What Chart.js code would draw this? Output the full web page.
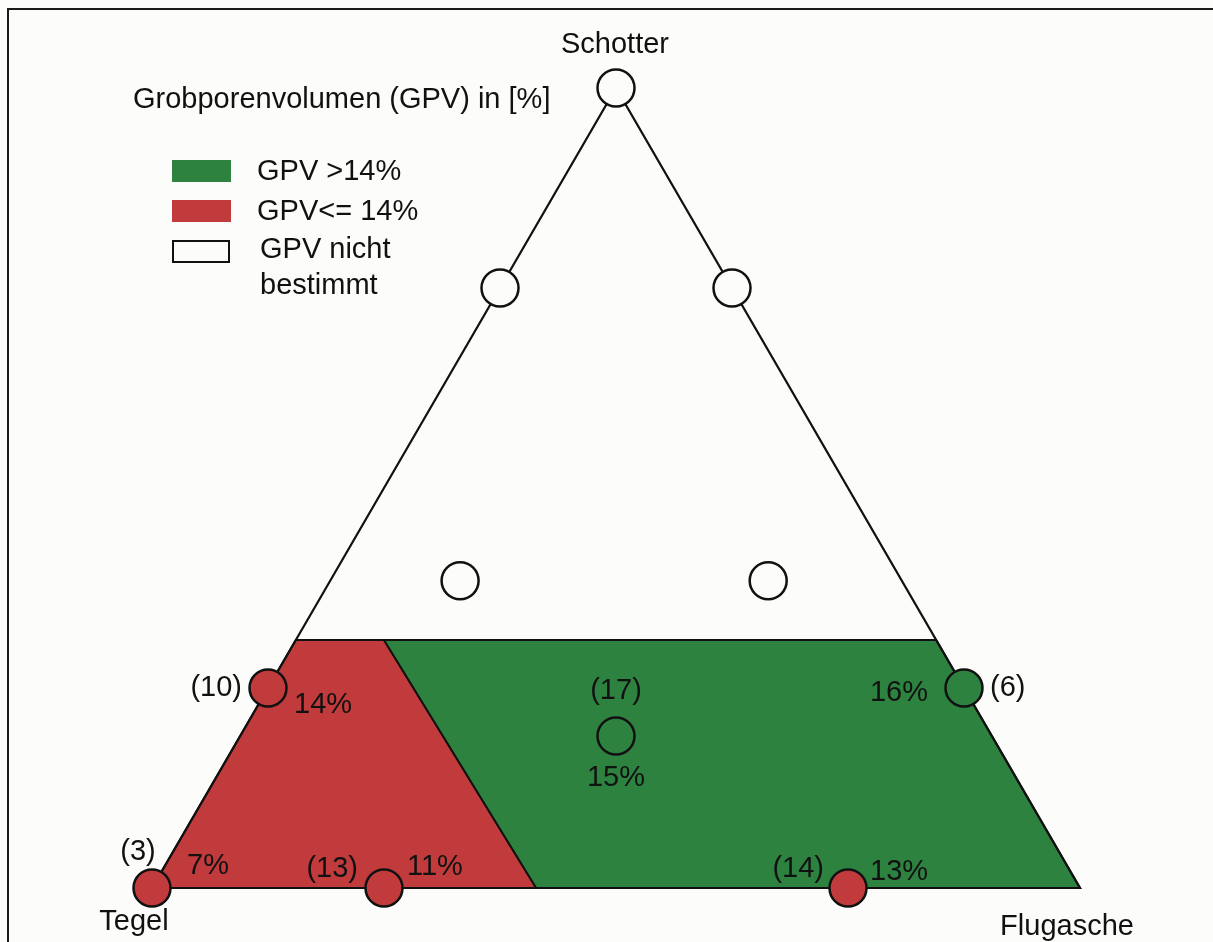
<!DOCTYPE html>
<html>
<head>
<meta charset="utf-8">
<script src="https://cdn.jsdelivr.net/npm/chart.js@4.4.1/dist/chart.umd.min.js"></script>
<style>
  html, body { margin: 0; padding: 0; background: #fcfcfa; }
  #wrap { position: relative; width: 1213px; height: 942px; }
</style>
</head>
<body>
<div id="wrap"><canvas id="ternary"></canvas></div>
<script>
// Ecken des Dreiecks
const cornerNames = ['Tegel', 'Schotter', 'Flugasche'];

// Mischungen (Anteile), GPV in % und Probenanzahl
const tegel     = [0, 0.25, 0,    0.476, 0.144, 0.75, 0,    0.405, 1, 0.75, 0.25];
const schotter  = [1, 0.75, 0.75, 0.384, 0.384, 0.25, 0.25, 0.19,  0, 0,    0];
const flugasche = [0, 0,    0.25, 0.14,  0.472, 0,    0.75, 0.405, 0, 0.25, 0.75];
const gpv         = [null, null, null, null, null, 14, 16, 15, 7, 11, 13];
const sampleCount = [null, null, null, null, null, 10, 6, 17, 3, 13, 14];

// Flächen (Tegel- / Schotteranteil der Eckpunkte)
const redZoneTegel      = [1, 0.69, 0.595, 0.586];
const redZoneSchotter   = [0, 0.31, 0.31, 0];
const greenZoneTegel    = [0.595, 0, 0, 0.586];
const greenZoneSchotter = [0.31, 0.31, 0, 0];

const legendLabels = [['GPV >14%'], ['GPV<= 14%'], ['GPV nicht', 'bestimmt']];
const chartTitle = 'Grobporenvolumen (GPV) in [%]';
const GPV_LIMIT = 14;

const GREEN = '#2e8240';
const RED = '#c13b3d';
const WHITE = '#fcfcfa';
const INK = '#111111';
const FONT = '29px "Liberation Sans", Arial, sans-serif';

// ternär -> kartesisch
function toXY(t, s) {
  return { x: 1 - t - s / 2, y: s };
}
function polygon(ts, ss) {
  const pts = ts.map((t, i) => toXY(t, ss[i]));
  pts.push(pts[0]);
  return pts;
}

const points = tegel.map((t, i) => toXY(t, schotter[i]));
const pointColors = gpv.map(v => v === null ? WHITE : (v > GPV_LIMIT ? GREEN : RED));

// Beschriftung: [dx, dy, align] für (n) und GPV-Wert
const labelPlacement = [
  null, null, null, null, null,
  [[-26, 0, 'right'], [26, 17, 'left']],
  [[26, 0, 'left'], [-36, 5, 'right']],
  [[0, -45, 'center'], [0, 42, 'center']],
  [[-14, -36, 'center'], [35, -22, 'left']],
  [[-26, -19, 'right'], [23, -21, 'left']],
  [[-24, -19, 'right'], [22, -16, 'left']]
];

const textPlugin = {
  id: 'ternaryText',
  afterDraw(chart) {
    const ctx = chart.ctx;
    const xs = chart.scales.x, ys = chart.scales.y;
    ctx.save();

    // Rahmen
    ctx.strokeStyle = '#1a1a1a';
    ctx.lineWidth = 2;
    ctx.beginPath();
    ctx.moveTo(8, chart.height);
    ctx.lineTo(8, 9);
    ctx.lineTo(chart.width, 9);
    ctx.stroke();

    ctx.font = FONT;
    ctx.fillStyle = INK;
    ctx.textBaseline = 'middle';

    // Ecken
    const cTeg = toXY(1, 0), cSch = toXY(0, 1), cFlu = toXY(0, 0);
    ctx.textAlign = 'center';
    ctx.fillText(cornerNames[1], xs.getPixelForValue(cSch.x) - 1, ys.getPixelForValue(cSch.y) - 43);
    ctx.fillText(cornerNames[0], xs.getPixelForValue(cTeg.x) - 18, ys.getPixelForValue(cTeg.y) + 34);
    ctx.fillText(cornerNames[2], xs.getPixelForValue(cFlu.x) - 13, ys.getPixelForValue(cFlu.y) + 39);

    // Titel
    ctx.textAlign = 'left';
    ctx.fillText(chartTitle, 133, 100);

    // Legende
    const legendFill = [GREEN, RED, WHITE];
    legendLabels.forEach((lines, i) => {
      const top = 160 + i * 40;
      ctx.fillStyle = legendFill[i];
      ctx.fillRect(172, top, 59, 22);
      if (i === 2) {
        ctx.strokeStyle = INK;
        ctx.lineWidth = 2;
        ctx.strokeRect(173, top + 1, 56, 21);
      }
      ctx.fillStyle = INK;
      lines.forEach((txt, j) => {
        ctx.fillText(txt, i === 2 ? 260 : 257, top + 12 + j * 36 - (i === 2 ? 2 : 0));
      });
    });

    // Punktbeschriftungen
    const meta = chart.getDatasetMeta(0);
    meta.data.forEach((el, i) => {
      const place = labelPlacement[i];
      if (!place) return;
      const texts = ['(' + sampleCount[i] + ')', gpv[i] + '%'];
      texts.forEach((txt, k) => {
        ctx.textAlign = place[k][2];
        ctx.fillText(txt, el.x + place[k][0], el.y + place[k][1]);
      });
    });
    ctx.restore();
  }
};

new Chart(document.getElementById('ternary'), {
  type: 'scatter',
  data: {
    datasets: [
      {
        label: 'Proben',
        data: points,
        order: 0,
        pointRadius: 18.5,
        pointBorderWidth: 2.5,
        pointBackgroundColor: pointColors,
        pointBorderColor: INK,
        showLine: false
      },
      {
        label: 'Dreieck',
        data: polygon([1, 0, 0], [0, 1, 0]),
        order: 1,
        showLine: true,
        borderColor: INK,
        borderWidth: 2.2,
        pointRadius: 0,
        fill: false,
        tension: 0
      },
      {
        label: 'GPV > 14%',
        data: polygon(greenZoneTegel, greenZoneSchotter),
        order: 2,
        showLine: true,
        borderColor: INK,
        borderWidth: 2,
        backgroundColor: GREEN,
        pointRadius: 0,
        fill: 'shape',
        tension: 0
      },
      {
        label: 'GPV <= 14%',
        data: polygon(redZoneTegel, redZoneSchotter),
        order: 3,
        showLine: true,
        borderColor: INK,
        borderWidth: 2,
        backgroundColor: RED,
        pointRadius: 0,
        fill: 'shape',
        tension: 0
      }
    ]
  },
  options: {
    responsive: true,
    maintainAspectRatio: false,
    animation: false,
    events: [],
    layout: { padding: 0, autoPadding: false },
    scales: {
      x: { type: 'linear', display: false, min: -152 / 928, max: 1061 / 928 },
      y: { type: 'linear', display: false, min: -54 / 800, max: 888 / 800 }
    },
    plugins: {
      legend: { display: false },
      tooltip: { enabled: false }
    }
  },
  plugins: [textPlugin]
});
</script>
</body>
</html>
